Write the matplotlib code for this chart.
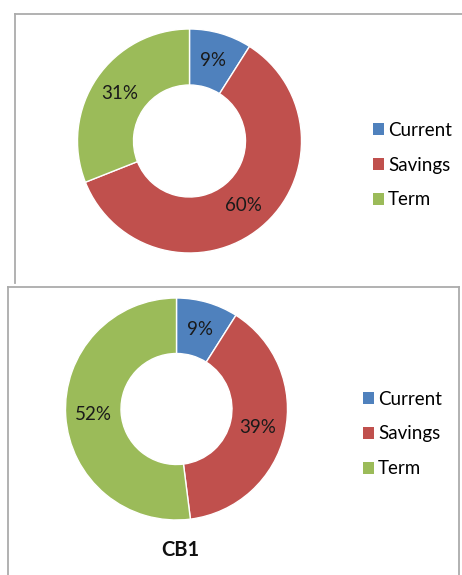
import matplotlib
matplotlib.use('Agg')
import matplotlib.pyplot as plt
from matplotlib.patches import Rectangle
from matplotlib.lines import Line2D

plt.rcParams['font.family'] = ['Lato', 'DejaVu Sans']

categories = ['Current', 'Savings', 'Term']
top_values = [9, 60, 31]
bottom_values = [9, 39, 52]
bottom_title = 'CB1'

colors = ['#4F81BD', '#C0504D', '#9BBB59']
W, H = 462, 575

fig = plt.figure(figsize=(W / 100, H / 100), dpi=100)

def px_axes(cx, cy, r):
    # axes box (in pixels, y from top) -> figure fraction
    return [(cx - r) / W, (H - cy - r) / H, 2 * r / W, 2 * r / H]

def donut(rect, values):
    ax = fig.add_axes(rect)
    wedges, texts, autotexts = ax.pie(
        values, colors=colors, startangle=90, counterclock=False,
        radius=1, autopct='%d%%', pctdistance=0.75,
        wedgeprops=dict(width=0.5, edgecolor='white', linewidth=1),
        textprops=dict(fontsize=13.5, color='#1a1a1a'))
    ax.set_xlim(-1, 1)
    ax.set_ylim(-1, 1)
    ax.set_aspect('equal')
    ax.axis('off')
    return ax

def legend(x, y):
    handles = [Rectangle((0, 0), 1, 1, facecolor=c, edgecolor='none') for c in colors]
    fig.legend(handles, categories, loc='center left', bbox_to_anchor=(x / W, 1 - y / H),
               frameon=False, fontsize=13.5, handlelength=0.6, handleheight=0.6,
               handletextpad=0.2, labelspacing=0.95, borderpad=0, borderaxespad=0)

donut(px_axes(189.5, 141, 112), top_values)
legend(373, 165)

donut(px_axes(176.5, 409, 111), bottom_values)
legend(363, 434)
fig.text(180 / W, 1 - 550 / H, bottom_title, ha='center', va='center',
         fontsize=14.5, fontweight='bold', color='#111111')

# panel frames
gray = '#ABABAB'
def seg(x0, y0, x1, y1):
    fig.add_artist(Line2D([x0 / W, x1 / W], [1 - y0 / H, 1 - y1 / H],
                          color=gray, linewidth=1.3))

seg(15, 14, 462, 14)
seg(15, 14, 15, 283)
seg(8, 287, 459, 287)
seg(8, 287, 8, 575)
seg(459, 287, 459, 575)

fig.savefig('out.png', dpi=100, facecolor='white')
